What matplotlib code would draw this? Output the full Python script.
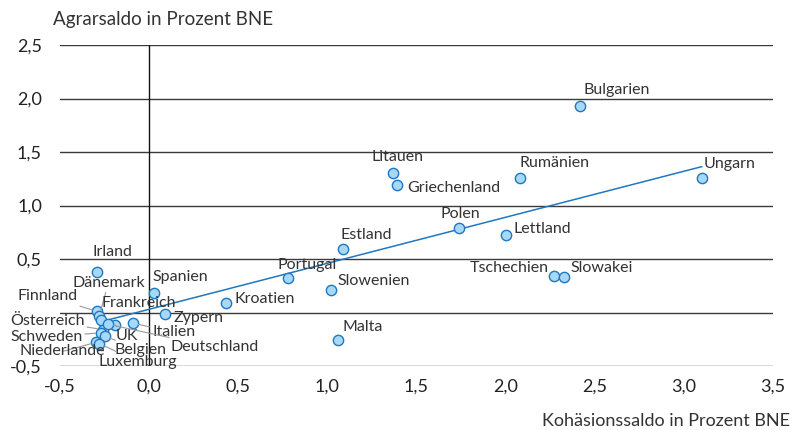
import matplotlib
matplotlib.use("Agg")
import matplotlib.pyplot as plt
import numpy as np

plt.rcParams['font.family'] = ['Lato', 'DejaVu Sans']

countries = ["Bulgarien", "Ungarn", "Rumänien", "Litauen", "Griechenland", "Polen",
             "Lettland", "Estland", "Tschechien", "Slowakei", "Portugal", "Slowenien",
             "Kroatien", "Malta", "Spanien", "Irland", "Zypern", "Italien",
             "Finnland", "Dänemark", "Frankreich", "Österreich", "UK", "Deutschland",
             "Schweden", "Belgien", "Niederlande", "Luxemburg"]
kohaesion = [2.42, 3.10, 2.08, 1.37, 1.39, 1.74,
             2.00, 1.09, 2.27, 2.33, 0.78, 1.02,
             0.43, 1.06, 0.03, -0.29, 0.09, -0.09,
             -0.29, -0.28, -0.27, -0.26, -0.19, -0.23,
             -0.27, -0.25, -0.30, -0.28]
agrar = [1.93, 1.26, 1.26, 1.30, 1.19, 0.79,
         0.72, 0.59, 0.34, 0.33, 0.32, 0.21,
         0.09, -0.26, 0.18, 0.38, -0.01, -0.10,
         0.01, -0.03, -0.07, -0.16, -0.12, -0.11,
         -0.19, -0.22, -0.28, -0.29]
trend_slope = 0.43
trend_intercept = 0.03

x_ticks = [-0.5, 0.0, 0.5, 1.0, 1.5, 2.0, 2.5, 3.0, 3.5]
y_ticks = [-0.5, 0.0, 0.5, 1.0, 1.5, 2.0, 2.5]
x_ticklabels = ["-0,5", "0,0", "0,5", "1,0", "1,5", "2,0", "2,5", "3,0", "3,5"]
y_ticklabels = ["-0,5", "", "0,5", "1,0", "1,5", "2,0", "2,5"]

# label placement: (dx px, dy px, ha, leader)
label_pos = {
    "Bulgarien": (3, 16, 'left', False),
    "Ungarn": (2, 14, 'left', False),
    "Rumänien": (0, 15, 'left', False),
    "Litauen": (4, 16, 'center', False),
    "Griechenland": (10, -3, 'left', False),
    "Polen": (1, 14, 'center', False),
    "Lettland": (8, 6, 'left', False),
    "Estland": (-3, 14, 'left', False),
    "Tschechien": (-5, 8, 'right', False),
    "Slowakei": (6, 9, 'left', False),
    "Portugal": (-11, 13, 'left', False),
    "Slowenien": (7, 9, 'left', False),
    "Kroatien": (9, 4, 'left', False),
    "Malta": (4, 13, 'left', False),
    "Spanien": (-2, 16, 'left', False),
    "Irland": (-5, 20, 'left', False),
    "Zypern": (8, -4, 'left', False),
    "Italien": (19, -9, 'left', True),
    "Finnland": (-80, 15, 'left', True),
    "Dänemark": (-27, 33, 'left', True),
    "Frankreich": (1, 17, 'left', False),
    "Österreich": (-93, 9, 'left', True),
    "UK": (0, -11, 'left', True),
    "Deutschland": (62, -23, 'left', True),
    "Schweden": (-91, -4, 'left', True),
    "Belgien": (10, -14, 'left', True),
    "Niederlande": (-76, -9, 'left', True),
    "Luxemburg": (-1, -18, 'left', True),
}

W, H = 793, 430
fig = plt.figure(figsize=(W / 100, H / 100), dpi=100)
ax = fig.add_axes([60 / W, 1 - 366 / H, (773 - 60) / W, (366 - 45) / H])
ax.set_xlim(-0.5, 3.5)
ax.set_ylim(-0.5, 2.5)

for sp in ax.spines.values():
    sp.set_visible(False)
for yv in y_ticks:
    ax.axhline(yv, color='#3a3a3a', lw=1.0, zorder=1)
ax.axvline(0, color='#111111', lw=1.0, zorder=1)

ax.set_xticks(x_ticks)
ax.set_yticks(y_ticks)
ax.set_xticklabels(x_ticklabels)
ax.set_yticklabels(y_ticklabels)
ax.tick_params(length=0, labelsize=13, colors='#222222')
ax.tick_params(axis='y', pad=13)
ax.tick_params(axis='x', pad=9)

xs = np.array([-0.275, 3.10])
ax.plot(xs, trend_intercept + trend_slope * xs, color='#1f78c1', lw=1.1, zorder=2)

ax.scatter(kohaesion, agrar, s=55, facecolor='#a6d8f7', edgecolor='#1f78c1',
           linewidth=1.0, zorder=3)

for name, xv, yv in zip(countries, kohaesion, agrar):
    dx, dy, ha, leader = label_pos[name]
    kw = {}
    if leader:
        kw['arrowprops'] = dict(arrowstyle='-', color='#999999', lw=0.8,
                                shrinkA=0, shrinkB=4)
    ax.annotate(name, (xv, yv), xytext=(dx, dy), textcoords='offset pixels',
                ha=ha, va='center', fontsize=11.5, color='#333333', zorder=4,
                annotation_clip=False, **kw)

fig.text(53 / W, 1 - 20 / H, "Agrarsaldo in Prozent BNE", fontsize=13.5,
         color='#333333', ha='left', va='center')
fig.text(790 / W, 1 - 421 / H, "Kohäsionssaldo in Prozent BNE", fontsize=13,
         color='#333333', ha='right', va='center')

fig.savefig("out.png", dpi=100)
